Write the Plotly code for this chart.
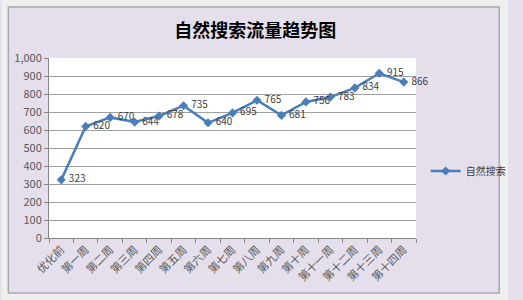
import plotly.graph_objects as go

categories = ["优化前", "第一周", "第二周", "第三周", "第四周", "第五周", "第六周", "第七周",
              "第八周", "第九周", "第十周", "第十一周", "第十二周", "第十三周", "第十四周"]
values = [323, 620, 670, 644, 678, 735, 640, 695, 765, 681, 756, 783, 834, 915, 866]
series_name = "自然搜索"
title_text = "自然搜索流量趋势图"

FONT = "Noto Sans CJK SC"
W, H = 523, 300
L, R, T, B = 49, 95, 58, 62
pw, ph = W - L - R, H - T - B

def px_x(p):
    return (p - L) / pw

def px_y(p):
    return (H - B - p) / ph

fig = go.Figure()
fig.add_trace(go.Scatter(
    x=categories, y=values, name=series_name,
    mode="lines+markers+text",
    text=[" " + str(v) for v in values],
    textposition="middle right",
    textfont=dict(family=FONT, size=10, color="#404040"),
    line=dict(color="#4a7ebb", width=2.5),
    marker=dict(symbol="diamond", size=7, color="#4a7ebb"),
    cliponaxis=False,
))

outer = "#efefef"
for (a, b, c, d) in [(0, W, 0, 7), (0, W, 293, H), (0, 7, 0, H), (514, W, 0, H)]:
    fig.add_shape(type="rect", xref="paper", yref="paper",
                  x0=px_x(a), x1=px_x(b), y0=px_y(d), y1=px_y(c),
                  fillcolor=outer, line=dict(width=0), layer="above")
fig.add_shape(type="rect", xref="paper", yref="paper",
              x0=px_x(7), x1=px_x(514), y0=px_y(293), y1=px_y(7),
              fillcolor="rgba(0,0,0,0)", line=dict(color="#a8a8a8", width=1.5), layer="above")

fig.update_layout(
    template="none",
    width=W, height=H,
    margin=dict(l=L, r=R, t=T, b=B),
    paper_bgcolor="#e4dfeb",
    plot_bgcolor="#ffffff",
    font=dict(family=FONT, color="#595959"),
    title=dict(text=title_text, x=px_x(262), xref="paper", xanchor="center",
               y=1 - 31 / H, yanchor="middle",
               font=dict(family=FONT, size=18, color="#000000", weight="bold")),
    showlegend=True,
    legend=dict(x=px_x(438), y=px_y(171), xanchor="left", yanchor="middle",
                bgcolor="rgba(0,0,0,0)", font=dict(family=FONT, size=10, color="#404040"),
                itemwidth=30),
    xaxis=dict(
        type="category", showgrid=False, showline=True, linecolor="#868686",
        ticks="outside", tickson="boundaries", ticklen=4, tickcolor="#868686",
        tickangle=-45, tickfont=dict(family=FONT, size=11, color="#595959"),
        range=[-0.5, len(categories) - 0.5],
    ),
    yaxis=dict(
        range=[0, 1000], dtick=100, tickformat=",",
        showgrid=True, gridcolor="#a0a0a0", gridwidth=1,
        showline=True, linecolor="#868686",
        ticks="outside", ticklen=4, tickcolor="#868686",
        tickfont=dict(family=FONT, size=11, color="#595959"),
        zeroline=False,
    ),
)

fig.write_html("out.html")
